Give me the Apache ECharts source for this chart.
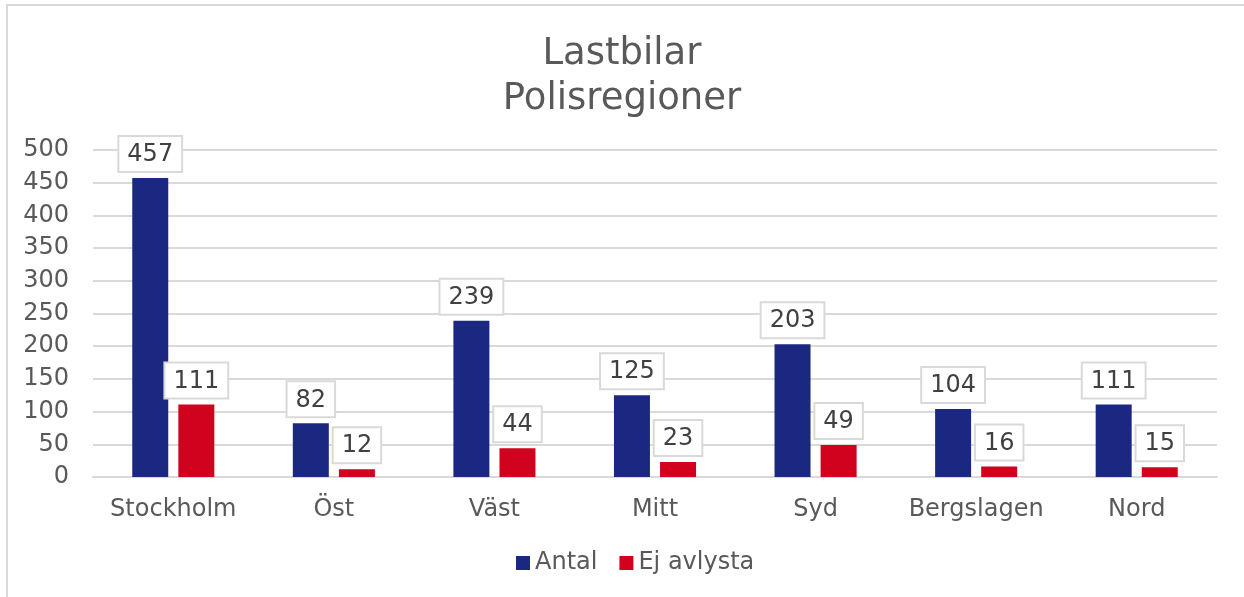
<!DOCTYPE html>
<html>
<head>
<meta charset="utf-8">
<script src="https://cdn.jsdelivr.net/npm/echarts@6/dist/echarts.min.js"></script>
<style>
  html, body { margin: 0; padding: 0; background: #fff; }
  #frame { position: absolute; left: 6px; top: 4px; width: 1260px; height: 620px; border: 2px solid #d9d9d9; box-sizing: border-box; }
  #chart { position: absolute; left: 0; top: 0; width: 1244px; height: 597px; }
</style>
</head>
<body>
<div id="frame"></div>
<div id="chart"></div>
<script>
// Lastbilar per polisregion
const regions = ['Stockholm', 'Öst', 'Väst', 'Mitt', 'Syd', 'Bergslagen', 'Nord'];
const antal = [457, 82, 239, 125, 203, 104, 111];
const ejAvlysta = [111, 12, 44, 23, 49, 16, 15];

const FONT = 'DejaVu Sans';
const TEXT = '#595959';

const label = {
  show: true,
  position: 'top',
  distance: 7,
  fontFamily: FONT,
  fontSize: 24,
  lineHeight: 24,
  color: '#404040',
  borderColor: '#d9d9d9',
  borderWidth: 2,
  padding: [6, 8, 4, 8],
  backgroundColor: '#fff'
};

const chart = echarts.init(document.getElementById('chart'), null, { renderer: 'canvas' });
chart.setOption({
  animation: false,
  backgroundColor: 'transparent',
  title: {
    text: 'Lastbilar\nPolisregioner',
    left: 'center',
    top: 27,
    textStyle: { fontFamily: FONT, fontSize: 37, lineHeight: 45, fontWeight: 'normal', color: TEXT }
  },
  legend: {
    bottom: 17,
    left: 511,
    itemWidth: 14,
    itemHeight: 14,
    itemGap: 22,
    icon: 'rect',
    textStyle: { fontFamily: FONT, fontSize: 24, color: TEXT }
  },
  grid: { left: 93, right: 27, top: 150, bottom: 120, containLabel: false },
  xAxis: {
    type: 'category',
    data: regions,
    axisLine: { lineStyle: { color: '#d9d9d9', width: 2 } },
    axisTick: { show: false },
    axisLabel: { fontFamily: FONT, fontSize: 24, color: TEXT, margin: 21, interval: 0 }
  },
  yAxis: {
    type: 'value',
    min: 0,
    max: 500,
    interval: 50,
    axisLine: { show: false },
    axisTick: { show: false },
    splitLine: { lineStyle: { color: '#d9d9d9', width: 2 } },
    axisLabel: { fontFamily: FONT, fontSize: 24, color: TEXT, margin: 24 }
  },
  series: [
    {
      name: 'Antal',
      type: 'bar',
      data: antal,
      barWidth: 36,
      barGap: '28%',
      itemStyle: { color: '#1b2881' },
      label: label
    },
    {
      name: 'Ej avlysta',
      type: 'bar',
      data: ejAvlysta,
      barWidth: 36,
      itemStyle: { color: '#d0021e' },
      label: label
    }
  ]
});
</script>
</body>
</html>
